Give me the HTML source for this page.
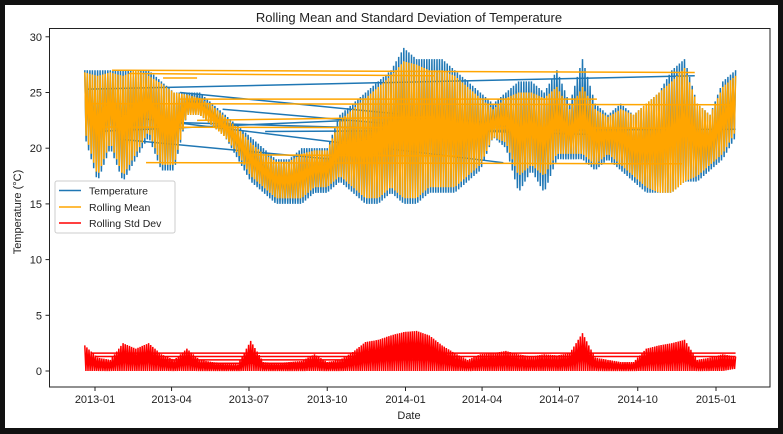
<!DOCTYPE html>
<html><head><meta charset="utf-8"><style>
html,body{margin:0;padding:0;background:#111;}
svg{display:block;font-family:"Liberation Sans","DejaVu Sans",sans-serif;}
</style></head><body>
<svg id="chart" width="783" height="434" xmlns="http://www.w3.org/2000/svg">
<rect x="5" y="5" width="773" height="423" fill="#fff"/>
<text x="409" y="22" text-anchor="middle" font-size="13" fill="#222">Rolling Mean and Standard Deviation of Temperature</text>
<g id="plot"></g>
<rect x="49.5" y="28.5" width="720.5" height="358.5" fill="none" stroke="#222" stroke-width="1"/>
<g id="axes"></g>
<text x="409" y="419" text-anchor="middle" font-size="11" fill="#222">Date</text>
<text transform="translate(21,212) rotate(-90)" text-anchor="middle" font-size="11" fill="#222">Temperature (°C)</text>
<g>
<rect x="55" y="181" width="120" height="52" fill="#fff" fill-opacity="0.85" stroke="#ccc" rx="2"/>
<line x1="59" y1="190.5" x2="81" y2="190.5" stroke="#1f77b4" stroke-width="1.5"/>
<text x="89" y="194.5" font-size="10.5" fill="#222">Temperature</text>
<line x1="59" y1="207" x2="81" y2="207" stroke="#ffa500" stroke-width="1.5"/>
<text x="89" y="211" font-size="10.5" fill="#222">Rolling Mean</text>
<line x1="59" y1="223" x2="81" y2="223" stroke="#ff0000" stroke-width="1.5"/>
<text x="89" y="227" font-size="10.5" fill="#222">Rolling Std Dev</text>
</g>
</svg>
<script>
const days=[-12,3,18,33,48,63,78,93,108,123,138,153,168,183,198,213,228,243,258,273,288,303,318,333,348,363,378,393,408,423,438,453,468,483,498,513,528,543,558,573,588,603,618,633,648,663,678,693,708,723,738,753];
const tempHigh=[27,27,27,27,27,27,26,25,25,25,24,23,22,21,20,19,19,20,20,20,23,24,25,26,27,29,28,28,28,27,26,25,24,25,26,26,25,27,24,28,24,23,24,23,24,25,27,28,24,23,26,27];
const tempLow=[21,17,20,17,19,21,18,18,23,23,22,21,19,17,16,15,15,15,16,16,17,16,15,15,16,15,15,16,16,16,17,18,21,20,16,18,16,19,19,19,18,19,18,17,16,16,16,17,17,18,19,21];
const meanHigh=[26.8,26.5,26.8,26.5,27,26.5,25.8,25,24.8,24.5,23.8,22.8,21.8,20.5,19.5,18.8,18.8,19.5,19.8,19.8,22.5,23.5,24.5,25.5,26.5,27.8,27.5,27,27,26.5,25.5,24.5,23.5,24.5,25,25,24.5,25.5,23.5,25.5,23.5,22.8,23.5,23,24,25,26,27.2,24,23,25.5,26.5];
const meanLow=[21.5,17.5,20.5,17.5,19.5,21.5,18.5,18.5,23,23,22,21,19.5,17.5,16.5,15.5,15.5,15.5,16.5,16.5,17.5,16.5,15.5,15.5,16.5,15.5,15.5,16.5,16.5,16.5,17.5,18.5,21,20.5,17.5,18.5,17.5,19.5,19.5,19.5,18.5,19.5,18.5,17.5,16.5,16,16,17,17.5,18.5,19.5,21.5];
const stdHigh=[2.3,1.2,1,2.5,2,2.5,1.5,1,2,1,0.8,0.7,0.6,2.7,0.8,0.7,0.8,0.9,1.5,0.8,1,1.7,2.6,2.8,3.2,3.5,3.6,3.2,2.3,1.6,1,1.5,1.6,1.8,1.5,1.3,1.5,1.4,1.6,3.4,1.2,1,0.8,0.8,2,2.3,2.5,2.8,1,1.2,1.5,1.3];
const stdLow=[0,0,0,0,0,0,0,0,0,0,0,0,0,0,0,0,0,0,0,0,0,0,0,0,0,0,0,0,0,0,0,0,0,0,0,0,0,0,0,0,0,0,0,0,0,0,0,0,0,0,0,0.2];
const blueWraps=[[-8,25.3,705,26.5],[0,21.5,300,22.5],[30,20.8,280,19],[100,25,500,22],[150,23.5,450,21.5],[20,23,480,18.7],[200,21.5,753,21.7],[100,22.3,600,21.2]];
const orangeWraps=[[20,27,705,26.8],[40,26.7,400,26.5],[-5,24,753,23.9],[10,21.9,680,21.8],[60,18.7,690,18.6],[180,19.4,430,19.3],[80,26.3,120,26.3],[120,22.5,400,22.8],[100,24.4,590,24.4]];
const redWraps=[[-5,1.6,753,1.6],[0,1.3,753,1.3],[50,1.0,400,1.0],[80,0.7,300,0.7]];
const yTicks=[0,5,10,15,20,25,30];
const xTickDays=[0,90,181,273,365,455,546,638,730];
const xTickLabels=["2013-01","2013-04","2013-07","2013-10","2014-01","2014-04","2014-07","2014-10","2015-01"];

const NS="http://www.w3.org/2000/svg";
const X=d=>95+d*0.8507;
const Y=v=>371-v*11.14;
const plot=document.getElementById('plot'), axes=document.getElementById('axes');
function mk(tag,attrs,parent){const e=document.createElementNS(NS,tag);for(const k in attrs)e.setAttribute(k,attrs[k]);parent.appendChild(e);return e;}
function zig(hi,lo,sub){let pts=[];for(let i=0;i<days.length;i++){const d=days[i];
 const last=i==days.length-1;const nd=last?d:days[i+1];const n=last?1:sub;
 const h2=last?hi[i]:hi[i+1], l2=last?lo[i]:lo[i+1];
 for(let k=0;k<n;k++){const f=k/sub;const dd=d+(nd-d)*f;const v=(k%2==0)?hi[i]+(h2-hi[i])*f:lo[i]+(l2-lo[i])*f;pts.push(X(dd).toFixed(1)+','+Y(v).toFixed(1));}}return pts.join(' ');}
function wraps(arr,color,name){arr.forEach(w=>{const l=mk('line',{x1:X(w[0]),y1:Y(w[1]),x2:X(w[2]),y2:Y(w[3]),stroke:color,'stroke-width':1.5},plot);

});}
wraps(blueWraps,'#1f77b4','temperature-wrap-line');
let p=mk('polyline',{points:zig(tempHigh,tempLow,10),fill:'none',stroke:'#1f77b4','stroke-width':1.5},plot);


wraps(orangeWraps,'#ffa500','rolling-mean-wrap-line');
p=mk('polyline',{points:zig(meanHigh,meanLow,10),fill:'none',stroke:'#ffa500','stroke-width':1.5},plot);


wraps(redWraps,'#ff0000','rolling-std-wrap-line');
p=mk('polyline',{points:zig(stdHigh,stdLow,12),fill:'none',stroke:'#ff0000','stroke-width':1.5},plot);


yTicks.forEach(v=>{const y=Y(v);mk('line',{x1:45.5,x2:49.5,y1:y,y2:y,stroke:'#222'},axes);
const t=mk('text',{x:42,y:y+4,'text-anchor':'end','font-size':11,fill:'#222'},axes);t.textContent=v;

});
xTickDays.forEach((d,i)=>{const x=X(d);mk('line',{x1:x,x2:x,y1:387,y2:391,stroke:'#222'},axes);
const t=mk('text',{x:x,y:403,'text-anchor':'middle','font-size':11,fill:'#222'},axes);t.textContent=xTickLabels[i];

});
</script>
</body></html>
